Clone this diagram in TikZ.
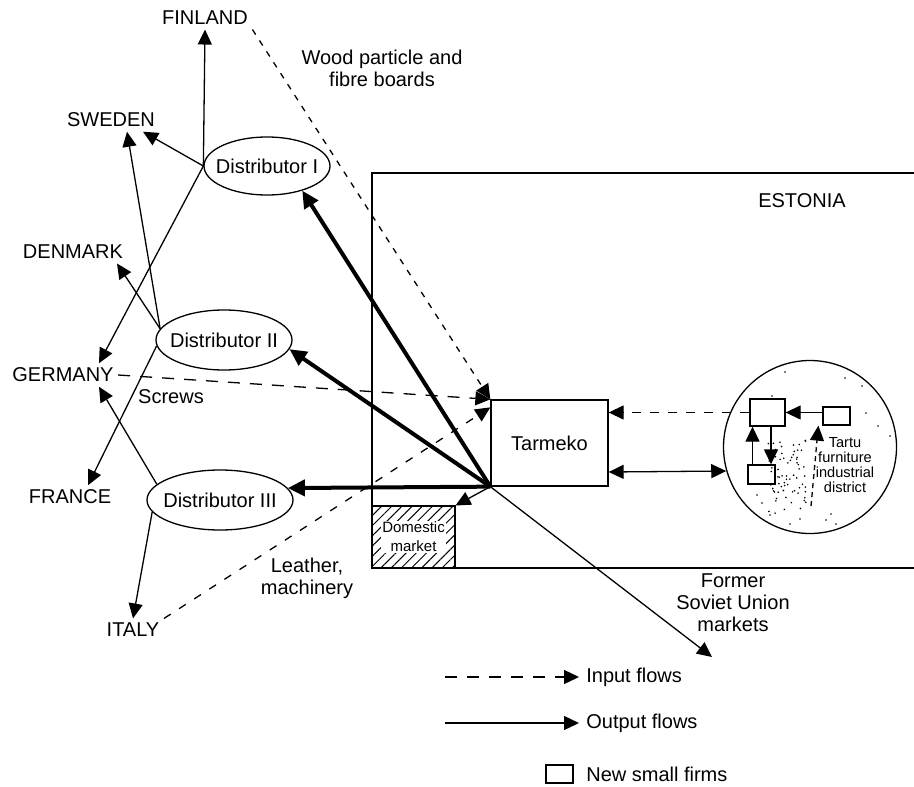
\documentclass[tikz,border=0pt]{standalone}
\usepackage{fontspec}
\setmainfont{Liberation Sans}
\usepackage{tikz}
\usetikzlibrary{arrows.meta,shapes.geometric,patterns.meta}

\begin{document}
\begin{tikzpicture}[x=0.5pt,y=-0.5pt,line width=0.65pt,
    font=\fontsize{10}{11}\selectfont,
    >={Triangle[length=7.5pt,width=7pt]},
    country/.style={inner sep=2pt},
    distr/.style={draw,ellipse,minimum width=#1,minimum height=30pt,inner sep=0pt},
    firm/.style={draw,minimum width=13.5pt,minimum height=9.5pt,inner sep=0pt},
    smalltxt/.style={font=\fontsize{7.3}{7.6}\selectfont},
    outflow/.style={->,line width=2pt,>={Triangle[length=8.5pt,width=8pt]}},
    inflow/.style={->,dash pattern=on 4.5pt off 4.5pt}]
\useasboundingbox (0,0) rectangle (914,786);

% countries
\node[country] (fin) at (205,18) {FINLAND};
\node[country] (swe) at (111,120) {SWEDEN};
\node[country] (den) at (73,252) {DENMARK};
\node[country] (ger) at (63,375) {GERMANY};
\node[country] (fra) at (70,497) {FRANCE};
\node[country] (ita) at (133,630) {ITALY};

% distributors
\node[distr=63pt,minimum height=29pt,label=center:Distributor I] (d1) at (267,166) {};
\node[distr=68pt,label=center:Distributor II] (d2) at (224,340) {};
\node[distr=73pt,label=center:Distributor III] (d3) at (220,500) {};

% Estonia
\draw (914,173) -- (372,173) -- (372,568) -- (914,568);
\node (est) at (802,201) {ESTONIA};
\node[draw,minimum width=58.5pt,minimum height=43pt] (tar) at (549.5,443) {Tarmeko};
\node[draw,pattern={Lines[angle=45,distance=3.6pt,line width=0.5pt]},
      minimum width=41.5pt,minimum height=31pt,inner sep=0pt] (dom) at (413.5,537) {};
\node[align=center,fill=white,inner sep=0.6pt,font=\fontsize{7.5}{9.5}\selectfont] (domtxt) at (dom) {Domestic\\market};

% Tartu district
\node[draw,circle,minimum size=86.5pt,inner sep=0pt] (dist) at (810,447) {};
\pgfmathsetseed{11}
\foreach \i in {1,...,70}
  \fill ({806-38*rnd},{440+75*rnd}) circle (0.45pt); % stipple
\foreach \p in {(845,378),(862,386),(866,413),(878,426),(890,436),(757,495),(762,503),
                (770,515),(790,524),(800,519),(826,520),(831,514),(836,524),(785,372),(772,396)}
  \fill \p circle (0.45pt);
\node[firm,minimum width=17.5pt,minimum height=13.5pt] (fa) at (767.5,412.5) {};
\node[firm,minimum height=9pt] (fb) at (836.5,416) {};
\node[firm] (fc) at (761.5,474.5) {};
\node[smalltxt,align=center] (tartu) at (845,465) {Tartu\\furniture\\industrial\\district};

% labels
\node[align=center] (wood) at (382,68) {Wood particle and\\fibre boards};
\node (scr) at (171,397) {Screws};
\node[align=center] (lea) at (307,578) {Leather,\\machinery};
\node[align=center] (fsu) at (733,603) {Former\\Soviet Union\\markets};

% distributors to countries
\draw[->] (d1.west) -- (fin.south);
\draw[->] (d1.west) -- ([xshift=16pt]swe.south);
\draw[->] (d1.west) -- ([xshift=18pt]ger.north);
\draw[->] (d2.170) -- ([xshift=8pt]swe.south);
\draw[->] (d2.170) -- ([xshift=22pt]den.south);
\draw[->] (d2.185) -- ([xshift=9pt]fra.north);
\draw[->] (d3.166) -- ([xshift=18pt]ger.south);
\draw[->] (d3.190) -- (ita.north);

% output flows
\draw[outflow] (tar.south west) -- (d1.-35);
\draw[outflow] (tar.south west) -- (d2.-8);
\draw[outflow] (tar.south west) -- (d3.10);
\draw[->] (tar.south west) -- (dom.north east);
\coordinate (fsuend) at (712,657);
\draw[->] (tar.south west) -- (fsuend);

% input flows
\draw[inflow,dash pattern=on 3pt off 3.5pt] (fin.south east) -- (tar.north west);
\draw[inflow,dash pattern=on 6pt off 5pt] (ger.east) -- (tar.north west);
\draw[inflow,dash pattern=on 4pt off 5pt] (ita.north east) -- ([yshift=-4pt]tar.north west);
\draw[inflow] (fa.west) -- (fa.west -| tar.east);
\draw[<->] ([yshift=-14.5pt]tar.east) -- (dist.196);

% inside the district
\draw[->] (fa.east -| fb.west) -- (fa.east);
\draw[->] ([xshift=1.75pt]fa.south) -- ([xshift=1.75pt]fa.south |- fc.north);
\draw[->] ([xshift=-7.5pt]fa.south |- fc.north) -- ([xshift=-7.5pt]fa.south);
\coordinate (stip) at (811,506);
\draw[inflow,dash pattern=on 2.5pt off 2pt] (stip) -- ([xshift=-2pt]fb.south west);

% legend
\coordinate (lgin) at (445,677);
\node[anchor=west] (lin) at (579,677) {Input flows};
\draw[inflow,dash pattern=on 6pt off 5pt] (lgin) -- (lin.west);
\coordinate (lgout) at (445,723);
\node[anchor=west] (lout) at (579,723) {Output flows};
\draw[->] (lgout) -- (lout.west);
\node[firm,minimum height=9pt] (lgfirm) at (559.5,774) {};
\node[anchor=west] (lfirm) at (579,774) {New small firms};
\end{tikzpicture}
\end{document}
